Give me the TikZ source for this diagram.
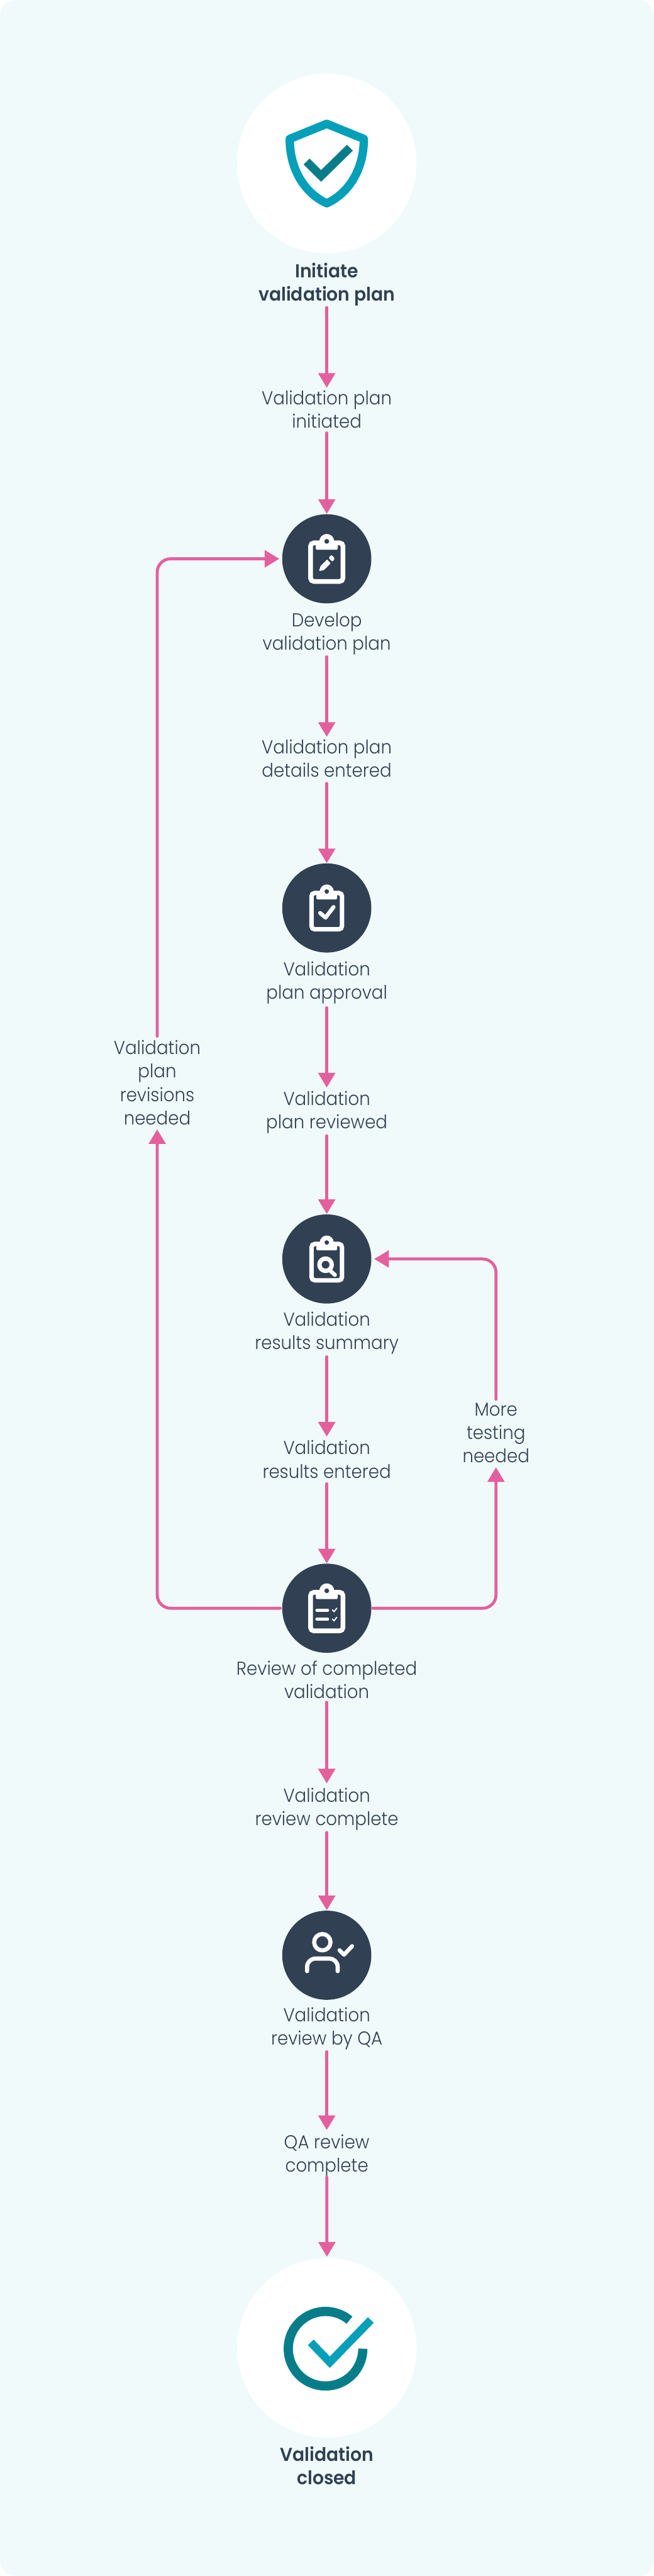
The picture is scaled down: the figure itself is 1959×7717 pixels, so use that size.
\documentclass[tikz,border=0pt]{standalone}
\usepackage{fontspec}
\usetikzlibrary{arrows.meta}
\newfontfamily\lightf[FakeStretch=0.93]{Poppins Light}
\newfontfamily\semif[FakeStretch=0.95]{Poppins SemiBold}
\definecolor{bgc}{HTML}{F0FAFB}
\definecolor{dk}{HTML}{314153}
\definecolor{pk}{HTML}{E4609D}
\definecolor{tealA}{HTML}{049FB9}
\definecolor{tealB}{HTML}{087D8A}
\newcommand\tl{\rule{0pt}{50pt}}
\newcommand\bl{\rule[-10pt]{0pt}{10pt}}
\tikzset{
 lbl/.style={inner sep=0pt,outer sep=0pt,align=center,text=dk,anchor=north,font={\lightf\fontsize{56}{70}\selectfont}},
 lblb/.style={lbl,font={\semif\fontsize{56}{70}\selectfont}},
 dot/.style={circle,fill=dk,inner sep=0pt,outer sep=0pt,minimum size=267pt},
 big/.style={circle,fill=white,inner sep=0pt,outer sep=0pt,minimum size=538pt},
 arr/.style={draw=pk,line width=9pt,line cap=round,-{Triangle[length=44pt,width=50pt]}},
 loopa/.style={arr,rounded corners=40pt},
 ic/.style={draw=white,line cap=round,line join=round},
}
\newcommand\clipbase[3]{%
 \begin{scope}[shift={(#1,#2)},scale=#3]
  \draw[draw=white,line width=#3*13.3pt,rounded corners=10pt] (-45.8,-45) rectangle (45.8,64);
  \fill[white,rounded corners=3pt] (-31,-50) -- (31,-50) -- (31,-25.7) -- (-31,-25.7) -- cycle;
  \fill[white] (0,-49.3) circle (21);
  \fill[dk] (0,-49.3) circle (6.7);
 \end{scope}}
\begin{document}
\begin{tikzpicture}[yscale=-1,x=1pt,y=1pt]
\useasboundingbox (0,0) rectangle (1959,7717);
\fill[bgc,rounded corners=45pt] (0,0) rectangle (1959,7717);

% circles
\node[big] (c0) at (979,489.6) {};
\node[dot] (c1) at (979,1674) {};
\node[dot] (c2) at (979,2720) {};
\node[dot] (c3) at (979,3771.5) {};
\node[dot] (c4) at (979,4817.8) {};
\node[dot] (c5) at (979,5857.3) {};
\node[big] (c6) at (979.5,7033.5) {};

% texts
\node[lblb] (t0) at (979,781) {\tl Initiate\\validation plan\bl};
\node[lbl] (l1) at (979,1162) {\tl Validation plan\\initiated\bl};
\node[lbl] (t1) at (979,1827.5) {\tl Develop\\validation plan\bl};
\node[lbl] (l2) at (979,2208) {\tl Validation plan\\details entered\bl};
\node[lbl] (t2) at (979,2873) {\tl Validation\\plan approval\bl};
\node[lbl] (l3) at (979,3261) {\tl Validation\\plan reviewed\bl};
\node[lbl] (t3) at (979,3922.7) {\tl Validation\\results summary\bl};
\node[lbl] (l4) at (979,4307.7) {\tl Validation\\results entered\bl};
\node[lbl] (t4) at (979,4968.5) {\tl Review of completed\\validation\bl};
\node[lbl] (l5) at (979,5347.7) {\tl Validation\\review complete\bl};
\node[lbl] (t5) at (979,6006.7) {\tl Validation\\review by QA\bl};
\node[lbl] (l6) at (979,6387) {\tl QA review\\complete\bl};
\node[lblb] (t6) at (979,7322.4) {\tl Validation\\closed\bl};
\node[lbl] (lrev) at (471,3109) {\tl Validation\\plan\\revisions\\needed\bl};
\node[lbl] (lmore) at (1486,4191.7) {\tl More\\testing\\needed\bl};

% connectors
\draw[arr,shorten <=5.5pt,shorten >=0.3pt] (t0.south) -- (l1.north);
\draw[arr,shorten <=5pt,shorten >=1pt] (l1.south) -- (c1.north);
\draw[arr,shorten <=5.5pt,shorten >=0.5pt] (t1.south) -- (l2.north);
\draw[arr,shorten <=9pt,shorten >=0.5pt] (l2.south) -- (c2.north);
\draw[arr,shorten <=11.5pt,shorten >=3pt] (t2.south) -- (l3.north);
\draw[arr,shorten <=7pt,shorten >=1pt] (l3.south) -- (c3.north);
\draw[arr,shorten <=7.3pt,shorten >=4pt] (t3.south) -- (l4.north);
\draw[arr,shorten <=7.3pt,shorten >=0.6pt] (l4.south) -- (c4.north);
\draw[arr,shorten <=1pt,shorten >=5pt] (t4.south) -- (l5.north);
\draw[arr,shorten <=7.3pt,shorten >=1.2pt] (l5.south) -- (c5.north);
\draw[arr,shorten <=5.3pt,shorten >=6pt] (t5.south) -- (l6.north);
\draw[arr,shorten <=1pt,shorten >=4pt] (l6.south) -- (c6.north);
\draw[loopa,shorten <=5.5pt,shorten >=4pt] (c4.west) -| (lrev.south);
\draw[loopa,shorten <=5pt,shorten >=8.5pt] (lrev.north) |- (c1.west);
\draw[loopa,shorten <=4.5pt,shorten >=3.7pt] (c4.east) -| (lmore.south);
\draw[loopa,shorten >=8.5pt] (lmore.north) |- (c3.east);

% shield icon
\draw[tealA,line width=25pt,line join=round]
 (979,371) -- (868,416) .. controls (868,510) and (915,580) .. (979,609)
 .. controls (1043,580) and (1090,510) .. (1090,416) -- cycle;
\draw[tealB,line width=25pt,line join=miter] (918.5,484) -- (962,527) -- (1048.4,442.4);

% clipboards
\clipbase{979}{1674}{1.06}
\begin{scope}[shift={(979,1674)}]
 \fill[white,rounded corners=1.5pt] (-22.9,36.7) -- (-19.3,22.7) -- (1,2) -- (11.8,13.7) -- (-9,34) -- cycle;
 \fill[white,rounded corners=2.5pt] (5.7,-2.3) -- (12,-10.5) -- (16,-10.5) -- (24,-0.7) -- (17,9) -- cycle;
\end{scope}

\clipbase{979}{2720}{1}
\draw[ic,line width=12pt] (959,2735) -- (975.3,2749) -- (999.3,2717.3);

\clipbase{979}{3771.5}{1}
\begin{scope}[shift={(979,3771.5)}]
 \draw[ic,line width=13pt] (-3.6,17.2) circle (18.5);
 \draw[ic,line width=12pt] (10.2,35.2) -- (24.5,47.8);
\end{scope}

\clipbase{979}{4817.8}{1.06}
\draw[ic,line width=9.5pt] (949.5,4823.7) -- (981.5,4823.7);
\draw[ic,line width=9.5pt] (949.5,4851) -- (981.5,4851);
\draw[ic,line width=3.5pt] (996,4822.7) -- (1000.6,4828.3) -- (1009,4817.7);
\draw[ic,line width=3.5pt] (996,4850) -- (1000.6,4855.6) -- (1009,4845);

% person
\draw[ic,line width=12.4pt] (965.7,5818.3) circle (24.5);
\draw[ic,line width=12.4pt,rounded corners=25pt] (920,5905) -- (920,5867.3) -- (1011.7,5867.3) -- (1011.7,5905);
\draw[ic,line width=12pt] (1017.3,5842.3) -- (1030.7,5855.7) -- (1055,5830);

% closed icon
\draw[tealB,line width=27.6pt] (975.3,7036) ++(-50:111.7) arc (-50:-360:111.7);
\draw[tealA,line width=24pt,line join=miter] (931,7017) -- (988.2,7076.5) -- (1111,6950);
\end{tikzpicture}
\end{document}
